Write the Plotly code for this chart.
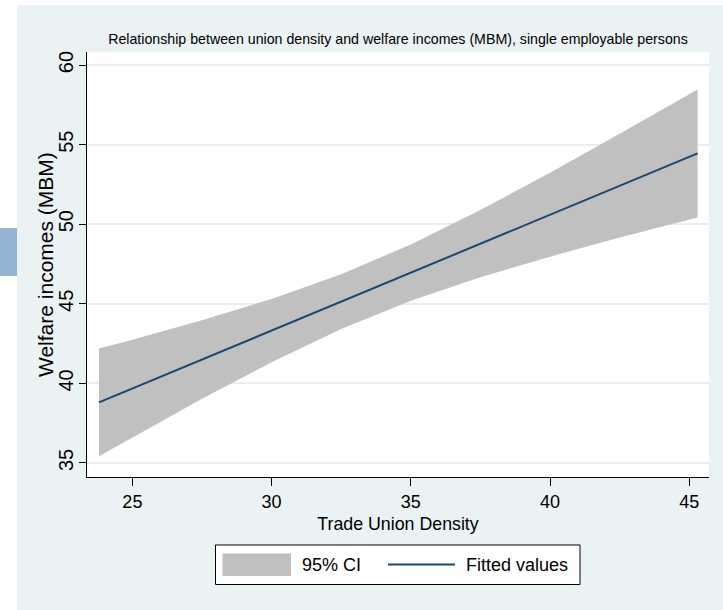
import plotly.graph_objects as go

# Values (Stata lfitci output)
density = [23.8, 25, 27.5, 30, 32.5, 35, 37.5, 40, 42.5, 45.3]
fitted = [38.81, 39.68, 41.50, 43.32, 45.14, 46.96, 48.78, 50.60, 52.42, 54.45]
ci_upper = [42.19, 42.75, 43.97, 45.31, 46.86, 48.73, 50.89, 53.24, 55.68, 58.47]
ci_lower = [35.43, 36.61, 39.03, 41.33, 43.42, 45.19, 46.67, 47.96, 49.16, 50.43]

x_ticks = [25, 30, 35, 40, 45]
y_ticks = [35, 40, 45, 50, 55, 60]

BG = '#EAF2F3'
BAND = '#C0C0C0'
NAVY = '#1A476F'
FONT = 'Liberation Sans, Arial, sans-serif'

# plot area in pixels: x 87..709, y 52..477 on a 723x610 page
L, R, T, B = 87, 709, 52, 477
W, H = R - L, B - T


def px(x):
    return (x - L) / W


def py(y):
    return (B - y) / H


fig = go.Figure()

fig.add_trace(go.Scatter(
    x=density, y=ci_lower, mode='lines', line=dict(width=0, color=BAND),
    showlegend=False, hoverinfo='skip'))
fig.add_trace(go.Scatter(
    x=density, y=ci_upper, mode='lines', line=dict(width=0, color=BAND),
    fill='tonexty', fillcolor=BAND, name='95% CI', showlegend=False))
fig.add_trace(go.Scatter(
    x=density, y=fitted, mode='lines', line=dict(width=2, color=NAVY),
    name='Fitted values', showlegend=False))

shapes = [
    # white strips at the top and left edge of the page
    dict(type='rect', xref='paper', yref='paper', x0=px(-5), x1=px(730),
         y0=py(5), y1=py(-5), fillcolor='white', line_width=0, layer='below'),
    dict(type='rect', xref='paper', yref='paper', x0=px(-5), x1=px(17),
         y0=py(620), y1=py(-5), fillcolor='white', line_width=0, layer='below'),
    dict(type='rect', xref='paper', yref='paper', x0=px(-5), x1=px(17),
         y0=py(276), y1=py(228), fillcolor='#92B4D2', line_width=0, layer='below'),
    # legend box
    dict(type='rect', xref='paper', yref='paper', x0=px(215.5), x1=px(580),
         y0=py(584.5), y1=py(545), fillcolor='white',
         line=dict(color='black', width=1)),
    dict(type='rect', xref='paper', yref='paper', x0=px(222.5), x1=px(291),
         y0=py(576), y1=py(553.5), fillcolor=BAND, line_width=0),
    dict(type='line', xref='paper', yref='paper', x0=px(388), x1=px(455),
         y0=py(564.5), y1=py(564.5), line=dict(color=NAVY, width=2)),
]

annotations = [
    dict(text='95% CI', xref='paper', yref='paper', x=px(300), y=py(564.5),
         xanchor='left', yanchor='middle', showarrow=False,
         font=dict(size=18, color='black', family=FONT)),
    dict(text='Fitted values', xref='paper', yref='paper', x=px(464), y=py(564.5),
         xanchor='left', yanchor='middle', showarrow=False,
         font=dict(size=18, color='black', family=FONT)),
    # y axis title
    dict(text='Welfare incomes (MBM)', xref='paper', yref='paper',
         x=px(45), y=py(265), xanchor='center', yanchor='middle',
         textangle=-90, showarrow=False,
         font=dict(size=21, color='black', family=FONT)),
]

fig.update_layout(
    width=723, height=610,
    margin=dict(l=L, r=723 - R, t=T, b=610 - B),
    paper_bgcolor=BG,
    plot_bgcolor='white',
    font=dict(family=FONT, color='black'),
    title=dict(
        text='Relationship between union density and welfare incomes (MBM), single employable persons',
        xref='paper', x=0.5, xanchor='center',
        yref='container', y=1 - 39 / 610, yanchor='middle',
        font=dict(size=14.2, color='black', family=FONT)),
    xaxis=dict(
        range=[23.37, 45.71], tickvals=x_ticks, showgrid=False, zeroline=False,
        showline=True, linecolor='black', linewidth=1,
        ticks='outside', ticklen=8, tickcolor='black',
        tickfont=dict(size=18, color='black'),
        title=dict(text='Trade Union Density', font=dict(size=17.8, color='black'),
                   standoff=6)),
    yaxis=dict(
        range=[34.12, 60.82], tickvals=y_ticks, showgrid=True,
        gridcolor='#E6EEF0', gridwidth=1.5, zeroline=False,
        showline=True, linecolor='black', linewidth=1,
        ticks='outside', ticklen=7, tickcolor='black', tickangle=-90,
        ticklabelstandoff=-2,
        tickfont=dict(size=20, color='black')),
    shapes=shapes,
    annotations=annotations,
    showlegend=False,
)

# drop the browser's default 8px body margin so the figure sits at the page corner
fig.write_html('out.html', config={'displayModeBar': False},
               post_script="document.body.style.margin='0';")
